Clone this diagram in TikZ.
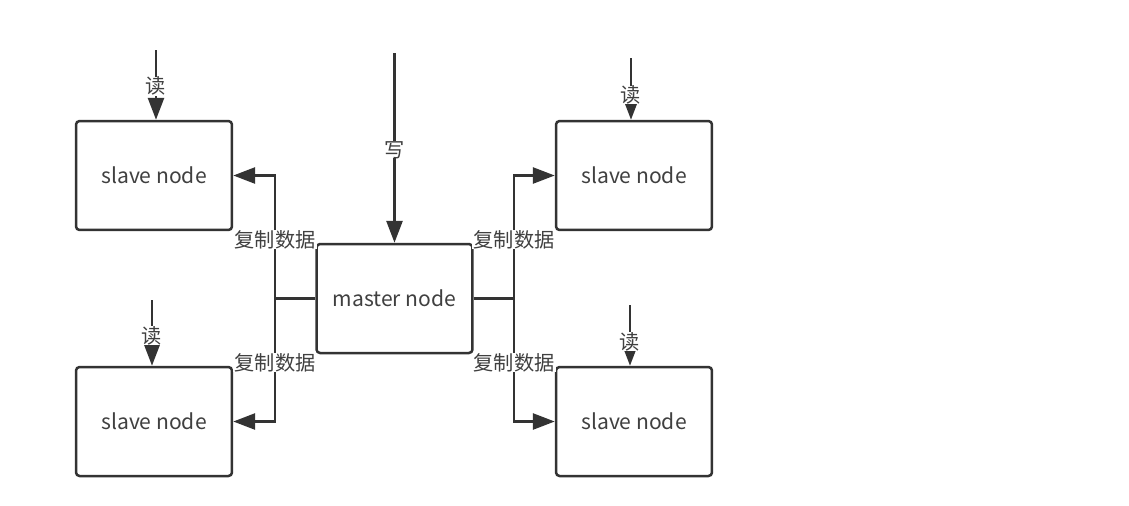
\documentclass[tikz,border=0pt]{standalone}
\usepackage{fontspec}
\setmainfont{Noto Sans CJK SC}
\usetikzlibrary{arrows.meta}

\begin{document}
\begin{tikzpicture}[x=0.02cm,y=-0.02cm,
  box/.style={draw=cline,line width=0.05cm,rounded corners=2pt,fill=white,
    minimum width=3.12cm,minimum height=2.18cm,text=ctext,
    font=\fontsize{12pt}{14pt}\selectfont},
  edge/.style={draw=cline,line width=0.055cm},
  tip/.style={-{Triangle[length=0.44cm,width=0.32cm]}},
  lbl/.style={fill=white,inner xsep=1pt,inner ysep=0pt,text=ctext,
    font=\fontsize{11.5pt}{14pt}\selectfont}]
\definecolor{cline}{rgb}{0.2,0.2,0.2}
\definecolor{ctext}{rgb}{0.25,0.25,0.25}
\useasboundingbox (0,0) rectangle (1129,505);
%
\node[box] (m) at (394.5,298.5) {master node};
\node[box] (s1) at (154,175.5) {slave node};
\node[box] (s2) at (634,175.5) {slave node};
\node[box] (s3) at (154,421.5) {slave node};
\node[box] (s4) at (634,421.5) {slave node};
%
\coordinate (w) at (394.5,53);
\coordinate (r1) at (156,50);
\coordinate (r2) at (631,58);
\coordinate (r3) at (152,300);
\coordinate (r4) at (630,305);
\coordinate (jl) at (275,298.5);
\coordinate (jr) at (514,298.5);
%
\draw[edge,tip] (w) -- node[lbl,pos=0.51] {写} (w |- m.north);
\draw[edge,tip] (r1) -- node[lbl,pos=0.52] {读} (r1 |- s1.north);
\draw[edge,tip] (r2) -- node[lbl,pos=0.6] {读} (r2 |- s2.north);
\draw[edge,tip] (r3) -- node[lbl,pos=0.54] {读} (r3 |- s3.north);
\draw[edge,tip] (r4) -- node[lbl,pos=0.6] {读} (r4 |- s4.north);
%
\draw[edge] (m.west) -- (jl);
\draw[edge] (m.east) -- (jr);
\draw[edge,tip] (jl) |- node[lbl,pos=0.24] {复制数据} (s1.east);
\draw[edge,tip] (jl) |- node[lbl,pos=0.26] {复制数据} (s3.east);
\draw[edge,tip] (jr) |- node[lbl,pos=0.24] {复制数据} (s2.west);
\draw[edge,tip] (jr) |- node[lbl,pos=0.26] {复制数据} (s4.west);
%
\end{tikzpicture}
\end{document}
